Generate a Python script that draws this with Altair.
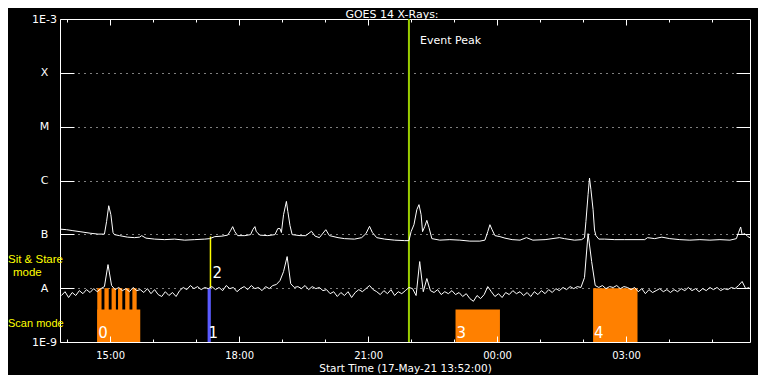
import altair as alt
import pandas as pd

# ---------------- data (time = minutes since 17-May-21 13:52:00) ----------------
T_START, T_END = -2, 961

# GOES long channel (1-8 A), W/m^2
up_t = [-2, 7, 16, 26, 40, 51, 60, 63, 66, 69, 72, 74, 81, 92, 102, 109, 112, 118, 130, 144,
        158, 172, 186, 200, 207, 214, 224, 232, 236, 239, 242, 246, 256, 264, 267, 270, 272, 277,
        288, 298, 302, 305, 307, 310, 314, 316, 319, 322, 333, 341, 349, 354, 360, 369, 374, 386,
        395, 409, 419, 425, 430, 434, 440, 451, 465, 479, 485, 488, 492, 496, 499, 502, 504, 507,
        510, 513, 517, 528, 542, 556, 570, 584, 591, 595, 598, 601, 605, 612, 619, 629, 640, 649,
        658, 675, 695, 702, 716, 726, 730, 732, 735, 737, 739, 742, 744, 746, 750, 758, 772, 786,
        814, 818, 828, 838, 849, 863, 877, 891, 905, 919, 933, 942, 945, 948, 950, 954, 958, 961]
up_flux = [1.25e-7, 1.22e-7, 1.17e-7, 1.12e-7, 1.05e-7, 1.01e-7, 1.01e-7, 1.72e-7, 3.40e-7, 2.32e-7,
           1.08e-7, 9.87e-8, 9.46e-8, 8.87e-8, 8.68e-8, 8.87e-8, 9.46e-8, 8.50e-8, 8.15e-8, 7.97e-8,
           8.15e-8, 7.80e-8, 7.97e-8, 8.15e-8, 8.32e-8, 9.06e-8, 9.26e-8, 9.66e-8, 1.17e-7, 1.39e-7,
           1.12e-7, 9.46e-8, 9.46e-8, 9.87e-8, 1.22e-7, 1.39e-7, 1.12e-7, 9.66e-8, 9.46e-8, 9.87e-8,
           1.28e-7, 1.28e-7, 1.08e-7, 2.32e-7, 4.09e-7, 2.64e-7, 1.45e-7, 9.87e-8, 9.46e-8, 9.46e-8,
           1.14e-7, 9.26e-8, 8.68e-8, 1.22e-7, 9.46e-8, 8.68e-8, 8.32e-8, 8.15e-8, 8.68e-8, 1.03e-7,
           1.41e-7, 1.08e-7, 8.68e-8, 8.15e-8, 7.80e-8, 7.64e-8, 7.64e-8, 1.12e-7, 1.51e-7, 2.87e-7,
           3.56e-7, 2.32e-7, 1.12e-7, 1.39e-7, 1.82e-7, 1.33e-7, 8.32e-8, 7.80e-8, 7.97e-8, 7.80e-8,
           7.48e-8, 7.48e-8, 7.80e-8, 1.12e-7, 1.51e-7, 1.22e-7, 9.46e-8, 9.06e-8, 8.50e-8, 7.97e-8,
           7.80e-8, 8.68e-8, 7.80e-8, 7.97e-8, 8.68e-8, 8.32e-8, 7.80e-8, 7.97e-8, 8.68e-8, 1.72e-7,
           5.45e-7, 1.11e-6, 6.75e-7, 2.87e-7, 1.20e-7, 9.46e-8, 8.15e-8, 8.15e-8, 7.97e-8, 7.97e-8,
           7.97e-8, 8.68e-8, 8.32e-8, 8.87e-8, 8.32e-8, 7.97e-8, 7.80e-8, 7.97e-8, 7.80e-8, 7.97e-8,
           7.80e-8, 8.32e-8, 1.08e-7, 1.37e-7, 9.87e-8, 1.03e-7, 9.06e-8, 8.68e-8]

# GOES short channel (0.5-4 A), W/m^2, one value every 5 minutes from t = 0
lo_t = list(range(0, 961, 5))
lo_flux = [7.3e-9, 8.6e-9, 6.7e-9, 8.3e-9, 7.3e-9, 9.0e-9, 7.9e-9, 9.4e-9, 8.3e-9, 9.8e-9,
           8.6e-9, 9.8e-9, 1.07e-8, 2.74e-8, 1.12e-8, 9.4e-9, 1.03e-8, 9.0e-9, 9.8e-9, 8.6e-9,
           1.03e-8, 9.0e-9, 9.4e-9, 8.3e-9, 9.8e-9, 7.9e-9, 9.4e-9, 7.6e-9, 7.0e-9, 8.6e-9,
           7.3e-9, 8.3e-9, 7.0e-9, 9.0e-9, 1.03e-8, 9.4e-9, 1.12e-8, 9.8e-9, 1.07e-8, 9.4e-9,
           1.03e-8, 9.8e-9, 1.07e-8, 9.4e-9, 1.03e-8, 9.0e-9, 1.12e-8, 9.8e-9, 1.03e-8, 8.6e-9,
           9.8e-9, 1.07e-8, 9.4e-9, 1.12e-8, 9.8e-9, 1.03e-8, 9.0e-9, 1.07e-8, 9.8e-9, 1.12e-8,
           1.17e-8, 1.38e-8, 2.03e-8, 3.86e-8, 1.21e-8, 1.03e-8, 1.07e-8, 9.8e-9, 1.12e-8, 9.4e-9,
           1.07e-8, 9.8e-9, 1.03e-8, 9.0e-9, 9.4e-9, 7.9e-9, 8.6e-9, 7.0e-9, 8.3e-9, 7.3e-9,
           8.6e-9, 6.7e-9, 8.3e-9, 9.4e-9, 8.6e-9, 9.8e-9, 1.12e-8, 9.4e-9, 8.6e-9, 7.6e-9,
           9.0e-9, 7.9e-9, 9.4e-9, 7.3e-9, 8.6e-9, 7.9e-9, 9.0e-9, 1.03e-8, 9.8e-9, 7.3e-9,
           3.12e-8, 8.6e-9, 1.51e-8, 9.0e-9, 8.3e-9, 9.4e-9, 7.6e-9, 8.6e-9, 7.9e-9, 9.0e-9,
           7.6e-9, 8.3e-9, 7.0e-9, 7.9e-9, 6.4e-9, 5.7e-9, 7.3e-9, 6.4e-9, 7.6e-9, 1.07e-8,
           8.6e-9, 7.0e-9, 7.9e-9, 6.7e-9, 8.3e-9, 7.6e-9, 9.0e-9, 7.9e-9, 8.6e-9, 7.3e-9,
           8.3e-9, 7.0e-9, 8.6e-9, 7.6e-9, 9.0e-9, 7.9e-9, 9.4e-9, 8.3e-9, 9.8e-9, 9.0e-9,
           1.03e-8, 9.4e-9, 1.07e-8, 9.8e-9, 1.07e-8, 1.03e-8, 1.57e-8, 1.03e-7, 3.12e-8, 1.12e-8,
           1.03e-8, 1.12e-8, 9.8e-9, 1.07e-8, 1.03e-8, 1.12e-8, 9.8e-9, 1.07e-8, 1.03e-8, 9.4e-9,
           1.03e-8, 8.6e-9, 9.8e-9, 7.9e-9, 9.4e-9, 8.3e-9, 9.0e-9, 9.8e-9, 8.6e-9, 9.4e-9,
           8.3e-9, 9.4e-9, 8.6e-9, 9.8e-9, 9.0e-9, 1.03e-8, 9.0e-9, 9.8e-9, 8.6e-9, 9.8e-9,
           9.0e-9, 1.03e-8, 9.4e-9, 1.03e-8, 9.0e-9, 9.8e-9, 9.4e-9, 1.03e-8, 9.8e-9, 1.12e-8,
           1.33e-8, 9.8e-9, 1.03e-8]

# hourly ticks (14:00 ... 05:00) and labelled ones
hour_ticks = [8, 68, 128, 188, 248, 308, 368, 428, 488, 548, 608, 668, 728, 788, 848, 908]
major_ticks = [68, 248, 428, 608, 788]
major_labels = ["15:00", "18:00", "21:00", "00:00", "03:00"]
minor_ticks = [t for t in hour_ticks if t not in major_ticks]

# flux levels and GOES class names
level_vals = [1e-9, 1e-8, 1e-7, 1e-6, 1e-5, 1e-4, 1e-3]
level_exp = [-9, -8, -7, -6, -5, -4, -3]
level_labels = ["1E-9", "A", "B", "C", "M", "X", "1E-3"]
class_vals = [1e-8, 1e-7, 1e-6, 1e-5, 1e-4]

# observation blocks (orange)
obs_t0 = [50, 60, 70, 79, 89, 99, 50, 550, 742]
obs_t1 = [56, 66, 76, 85, 95, 105, 110, 612, 804]
obs_top = [1e-8, 1e-8, 1e-8, 1e-8, 1e-8, 1e-8, 4e-9, 4e-9, 1e-8]
# blue bar (obs 1)
blue_t0, blue_t1, blue_top = [204], [208.5], [1e-8]
# yellow sit & stare marker (obs 2)
ss_t, ss_lo, ss_hi = [208], [1e-8], [9.1e-8]
# numbered observation labels
num_labels = ["0", "1", "3", "4"]
num_t = [50, 204, 550, 742]
event_t = [485]

FLOOR = 1e-9

df_up = pd.DataFrame({"t": up_t, "flux": up_flux})
df_lo = pd.DataFrame({"t": lo_t, "flux": lo_flux})
df_obs = pd.DataFrame({"t0": obs_t0, "t1": obs_t1, "top": obs_top, "base": [FLOOR] * len(obs_t0)})
df_blue = pd.DataFrame({"t0": blue_t0, "t1": blue_t1, "top": blue_top, "base": [FLOOR]})
df_ss = pd.DataFrame({"t": ss_t, "lo": ss_lo, "hi": ss_hi, "label": ["2"]})
df_num = pd.DataFrame({"t": num_t, "label": num_labels, "base": [FLOOR] * len(num_t)})
df_ev = pd.DataFrame({"t": event_t, "top": [1e-3], "label": ["Event Peak"]})

# ---------------- scales & axes ----------------
W, H = 690, 323
FONT = "DejaVu Sans"
xs = alt.Scale(domain=[T_START, T_END], nice=False, zero=False)
ys = alt.Scale(type="log", domain=[1e-9, 1e-3], nice=False)

x_expr = " : ".join(f"datum.value == {v} ? '{l}'" for v, l in zip(major_ticks, major_labels)) + " : ''"
y_expr = " : ".join(f"round(log(datum.value)/LN10) == {e} ? '{l}'" for e, l in zip(level_exp, level_labels)) + " : ''"


def tick_axis(orient, values, size):
    return alt.Axis(orient=orient, values=values, tickSize=size, offset=-size, labels=False,
                    domain=False, grid=False, ticks=True, tickColor="white", tickWidth=1,
                    title=None, zindex=1)


x_label_axis = alt.Axis(orient="bottom", values=major_ticks, labelExpr=x_expr, ticks=False, tickSize=0,
                        domain=False, grid=False, labelPadding=8, labelFont=FONT, labelFontSize=10,
                        labelColor="white", labelFlush=False,
                        title="Start Time (17-May-21 13:52:00)", titleFont=FONT, titleFontSize=10.5,
                        titleFontWeight="normal", titleColor="white", titleY=29,
                        titleBaseline="alphabetic")
y_label_axis = alt.Axis(orient="left", values=level_vals, labelExpr=y_expr, ticks=False, tickSize=0,
                        domain=False, grid=True, gridColor="white", gridDash=[1, 5], gridWidth=1,
                        gridOpacity=1, labelAlign="center", labelPadding=16, labelBaseline="middle",
                        labelFlush=True, labelFont=FONT, labelFontSize=11, labelColor="white",
                        labelOverlap=False, title=None)

# ---------------- layers ----------------
event_rule = alt.Chart(df_ev).mark_rule(color="#9acd00", strokeWidth=2).encode(
    x=alt.X("t:Q", scale=xs, axis=tick_axis("top", major_ticks, 6)))

obs_rects = alt.Chart(df_obs).mark_rect(color="#ff8000").encode(
    x=alt.X("t0:Q", scale=xs, axis=tick_axis("bottom", minor_ticks, 3)), x2="t1:Q",
    y=alt.Y("base:Q", scale=ys, axis=tick_axis("right", class_vals, 14)), y2="top:Q")

blue_bar = alt.Chart(df_blue).mark_rect(color="#5a5aff").encode(
    x=alt.X("t0:Q", scale=xs, axis=tick_axis("top", minor_ticks, 3)), x2="t1:Q",
    y=alt.Y("base:Q", scale=ys, axis=None), y2="top:Q")

ss_rule = alt.Chart(df_ss).mark_rule(color="#ffff00", strokeWidth=1.5).encode(
    x=alt.X("t:Q", scale=xs, axis=None),
    y=alt.Y("lo:Q", scale=ys, axis=None), y2="hi:Q")

upper = alt.Chart(df_up).mark_line(color="white", strokeWidth=1).encode(
    x=alt.X("t:Q", scale=xs, axis=x_label_axis),
    y=alt.Y("flux:Q", scale=ys, axis=y_label_axis))

lower = alt.Chart(df_lo).mark_line(color="white", strokeWidth=1).encode(
    x=alt.X("t:Q", scale=xs, axis=tick_axis("bottom", major_ticks, 6)),
    y=alt.Y("flux:Q", scale=ys, axis=tick_axis("left", class_vals, 14)))

num_text = alt.Chart(df_num).mark_text(color="white", font=FONT, fontSize=15, align="left",
                                       baseline="alphabetic", dx=1, dy=-4).encode(
    x=alt.X("t:Q", scale=xs, axis=None), y=alt.Y("base:Q", scale=ys, axis=None), text="label:N")

ss_text = alt.Chart(df_ss).mark_text(color="white", font=FONT, fontSize=15, align="left",
                                     baseline="alphabetic", dx=2, dy=-10.5).encode(
    x=alt.X("t:Q", scale=xs, axis=None), y=alt.Y("lo:Q", scale=ys, axis=None), text="label:N")

ev_text = alt.Chart(df_ev).mark_text(color="white", font=FONT, fontSize=11, align="left",
                                     baseline="top", dx=11, dy=16).encode(
    x=alt.X("t:Q", scale=xs, axis=None), y=alt.Y("top:Q", scale=ys, axis=None), text="label:N")

# plot title and side captions (fixed annotations)
title_text = alt.Chart(pd.DataFrame({"label": ["GOES 14 X-Rays:"]})).mark_text(
    color="white", font=FONT, fontSize=11, align="center", baseline="alphabetic").encode(
    x=alt.value(W / 2 - 13), y=alt.value(-0.7), text="label:N")

side_font = "Liberation Sans"
sit_text = alt.Chart(pd.DataFrame({"label": ["Sit & Stare"]})).mark_text(
    color="#ffff00", font=side_font, fontSize=11.5, align="left", baseline="alphabetic").encode(
    x=alt.value(-52), y=alt.value(244), text="label:N")
mode_text = alt.Chart(pd.DataFrame({"label": ["mode"]})).mark_text(
    color="#ffff00", font=side_font, fontSize=11.5, align="left", baseline="alphabetic").encode(
    x=alt.value(-47), y=alt.value(257), text="label:N")
scan_text = alt.Chart(pd.DataFrame({"label": ["Scan mode"]})).mark_text(
    color="#ffff00", font=side_font, fontSize=11, align="left", baseline="alphabetic").encode(
    x=alt.value(-52), y=alt.value(308), text="label:N")

chart = alt.layer(
    event_rule, obs_rects, blue_bar, ss_rule, upper, lower,
    num_text, ss_text, ev_text, title_text, sit_text, mode_text, scan_text,
).resolve_axis(x="independent", y="independent").properties(
    width=W, height=H,
    background="black",
    autosize="none",
    padding={"left": 52, "top": 11, "right": 8, "bottom": 33},
).configure_view(stroke="white", strokeWidth=1, fill="black")

chart.save("out.html", embed_options={"renderer": "svg", "actions": False})
